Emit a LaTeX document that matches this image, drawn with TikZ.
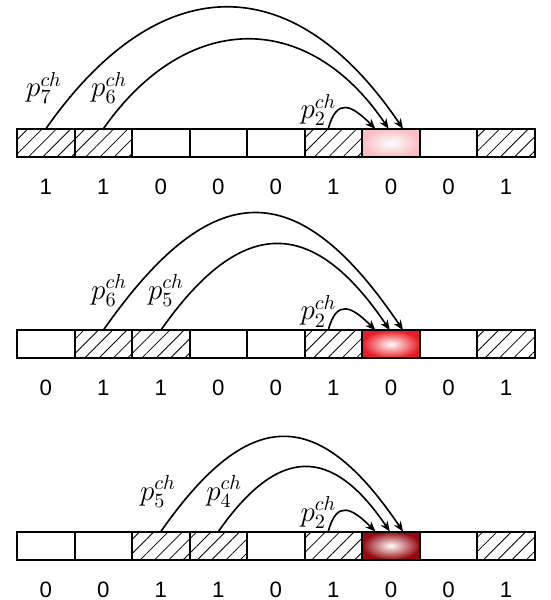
\documentclass[tikz,border=0pt]{standalone}
\usepackage{amsmath}
\usepackage{fontspec}
\setmainfont{Liberation Sans}
\usetikzlibrary{arrows.meta,patterns.meta,positioning}
\definecolor{chosenlight}{RGB}{250,190,195}
\definecolor{chosenred}{RGB}{232,28,36}
\definecolor{chosendark}{RGB}{150,8,14}

\begin{document}
\begin{tikzpicture}[
    cell/.style = {draw, line width=1pt, minimum width=1cm, minimum height=0.49cm,
        inner sep=0pt, outer sep=0pt, label={[digit]below:#1}},
    digit/.style = {anchor=center, yshift=-0.52cm, font=\fontsize{11}{13}\selectfont},
    hatched/.style = {pattern={Lines[angle=45,distance=5pt,line width=0.4pt]}},
    chosen/.style = {shading=radial, inner color=white, outer color=#1},
    arc/.style = {line width=0.8pt, -{Stealth[length=5pt,width=4pt,inset=1.5pt]}},
    plabel/.style = {font=\Large, inner sep=1pt}
]
    \useasboundingbox (-0.296,-7.70) rectangle (9.27,2.73);
    % first row
    \node[cell=1, hatched] (a0) at (0.5,0.245) {};
    \node[cell=1, hatched, right=0pt of a0] (a1) {};
    \node[cell=0, right=0pt of a1] (a2) {};
    \node[cell=0, right=0pt of a2] (a3) {};
    \node[cell=0, right=0pt of a3] (a4) {};
    \node[cell=1, hatched, right=0pt of a4] (a5) {};
    \node[cell=0, chosen=chosenlight, right=0pt of a5] (a6) {};
    \node[cell=0, right=0pt of a6] (a7) {};
    \node[cell=1, hatched, right=0pt of a7] (a8) {};
    % arcs of the first row
    \draw[arc] (a0.north) to[out=55,in=124,looseness=1.41] ([xshift=0.21cm]a6.north);
    \draw[arc] (a1.north) to[out=55,in=124,looseness=1.30] ([xshift=-0.04cm]a6.north);
    \draw[arc] ([xshift=-0.09cm]a5.north) to[out=75,in=135,looseness=1.8] ([xshift=-0.27cm]a6.north);
    \node[plabel] (pa7) at ([shift={(-0.03,0.71)}]a0.north) {$p_7^{ch}$};
    \node[plabel] (pa6) at ([shift={(0.1,0.71)}]a1.north) {$p_6^{ch}$};
    \node[plabel] (pa2) at ([shift={(-0.26,0.33)}]a5.north) {$p_2^{ch}$};

    % second row
    \node[cell=0] (b0) at (0.5,-3.255) {};
    \node[cell=1, hatched, right=0pt of b0] (b1) {};
    \node[cell=1, hatched, right=0pt of b1] (b2) {};
    \node[cell=0, right=0pt of b2] (b3) {};
    \node[cell=0, right=0pt of b3] (b4) {};
    \node[cell=1, hatched, right=0pt of b4] (b5) {};
    \node[cell=0, chosen=chosenred, right=0pt of b5] (b6) {};
    \node[cell=0, right=0pt of b6] (b7) {};
    \node[cell=1, hatched, right=0pt of b7] (b8) {};
    % arcs of the second row
    \draw[arc] (b1.north) to[out=55,in=124,looseness=1.62] ([xshift=0.21cm]b6.north);
    \draw[arc] (b2.north) to[out=55,in=124,looseness=1.56] ([xshift=-0.02cm]b6.north);
    \draw[arc] ([xshift=-0.09cm]b5.north) to[out=75,in=135,looseness=1.8] ([xshift=-0.27cm]b6.north);
    \node[plabel] (pb6) at ([shift={(0.1,0.69)}]b1.north) {$p_6^{ch}$};
    \node[plabel] (pb5) at ([shift={(0.09,0.69)}]b2.north) {$p_5^{ch}$};
    \node[plabel] (pb2) at ([shift={(-0.26,0.33)}]b5.north) {$p_2^{ch}$};

    % third row
    \node[cell=0] (c0) at (0.5,-6.755) {};
    \node[cell=0, right=0pt of c0] (c1) {};
    \node[cell=1, hatched, right=0pt of c1] (c2) {};
    \node[cell=1, hatched, right=0pt of c2] (c3) {};
    \node[cell=0, right=0pt of c3] (c4) {};
    \node[cell=1, hatched, right=0pt of c4] (c5) {};
    \node[cell=0, chosen=chosendark, right=0pt of c5] (c6) {};
    \node[cell=0, right=0pt of c6] (c7) {};
    \node[cell=1, hatched, right=0pt of c7] (c8) {};
    % arcs of the third row
    \draw[arc] (c2.north) to[out=55,in=124,looseness=1.62] ([xshift=0.21cm]c6.north);
    \draw[arc] (c3.north) to[out=55,in=124,looseness=1.56] ([xshift=-0.02cm]c6.north);
    \draw[arc] ([xshift=-0.09cm]c5.north) to[out=75,in=135,looseness=1.8] ([xshift=-0.27cm]c6.north);
    \node[plabel] (pc5) at ([shift={(-0.05,0.69)}]c2.north) {$p_5^{ch}$};
    \node[plabel] (pc4) at ([shift={(0.1,0.69)}]c3.north) {$p_4^{ch}$};
    \node[plabel] (pc2) at ([shift={(-0.26,0.33)}]c5.north) {$p_2^{ch}$};
\end{tikzpicture}
\end{document}
